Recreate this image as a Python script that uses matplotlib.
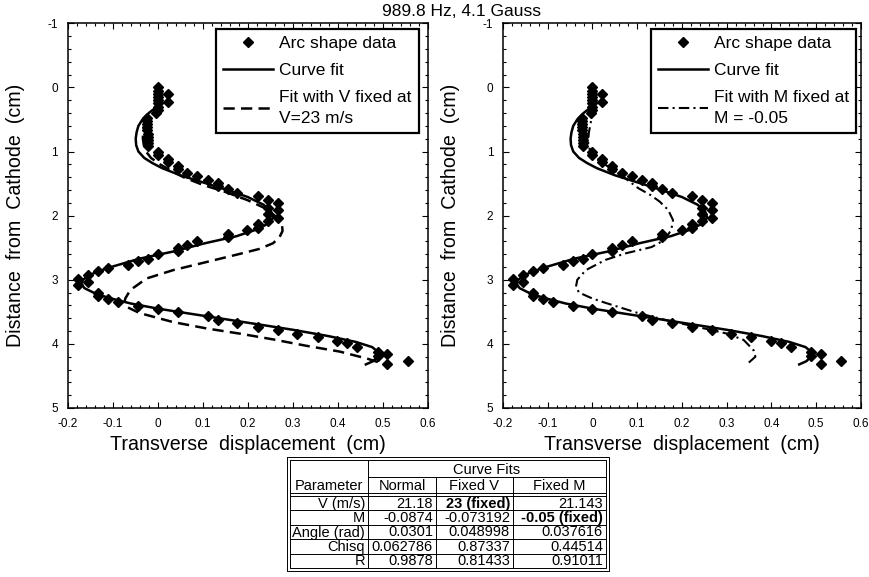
import matplotlib
matplotlib.use("Agg")
import matplotlib.pyplot as plt
from matplotlib.ticker import MultipleLocator, FormatStrFormatter

plt.rcParams['font.family'] = ['Liberation Sans', 'DejaVu Sans']
plt.rcParams['axes.unicode_minus'] = False

# arc shape data (transverse displacement, distance from cathode), cm
data_x = [0.000, 0.000, 0.000, 0.000, 0.000, 0.000, 0.000, 0.000, -0.004, 0.022, 0.022,
          -0.024, -0.024, -0.024, -0.024, -0.024, -0.022, -0.022, -0.022, -0.022, -0.022,
          0.000, 0.000, 0.022, 0.022, 0.044, 0.044, 0.066, 0.088, 0.111, 0.133, 0.133,
          0.155, 0.177, 0.222, 0.244, 0.266, 0.244, 0.266, 0.244, 0.266, 0.244, 0.222,
          0.222, 0.199, 0.155, 0.155, 0.088, 0.066, 0.044, 0.044, 0.000, -0.022, -0.044,
          -0.066, -0.111, -0.133, -0.155, -0.177, -0.155, -0.177, -0.133, -0.133, -0.111,
          -0.089, -0.044, 0.000, 0.044, 0.111, 0.133, 0.177, 0.222, 0.266, 0.310, 0.355,
          0.399, 0.421, 0.443, 0.488, 0.488, 0.510, 0.510, 0.555]
data_y = [0.00, 0.05, 0.10, 0.15, 0.20, 0.25, 0.30, 0.35, 0.40, 0.11, 0.22,
          0.47, 0.52, 0.57, 0.62, 0.67, 0.72, 0.77, 0.82, 0.87, 0.92,
          1.00, 1.05, 1.12, 1.17, 1.22, 1.27, 1.33, 1.38, 1.44, 1.49, 1.54,
          1.59, 1.65, 1.69, 1.76, 1.81, 1.88, 1.91, 1.98, 2.03, 2.08, 2.13,
          2.19, 2.23, 2.29, 2.33, 2.40, 2.46, 2.51, 2.55, 2.60, 2.67, 2.71,
          2.77, 2.82, 2.87, 2.93, 2.99, 3.03, 3.08, 3.20, 3.25, 3.30,
          3.35, 3.41, 3.46, 3.51, 3.57, 3.62, 3.67, 3.73, 3.78, 3.84, 3.89,
          3.95, 3.99, 4.05, 4.12, 4.19, 4.16, 4.32, 4.26]

# curve fit (normal)
fit_x = [-0.002, -0.020, -0.034, -0.043, -0.047, -0.049, -0.048, -0.043, -0.030, -0.012,
         0.010, 0.050, 0.100, 0.150, 0.200, 0.235, 0.252, 0.256, 0.246, 0.222, 0.175,
         0.105, 0.034, -0.040, -0.113, -0.150, -0.166, -0.170, -0.163, -0.140, -0.110,
         -0.060, 0.000, 0.100, 0.200, 0.300, 0.380, 0.440, 0.476, 0.490, 0.488, 0.478, 0.462]
fit_y = [0.30, 0.40, 0.50, 0.60, 0.70, 0.80, 0.90, 1.00, 1.10, 1.18,
         1.26, 1.37, 1.48, 1.59, 1.71, 1.83, 1.94, 2.03, 2.12, 2.21, 2.32,
         2.43, 2.56, 2.67, 2.82, 2.92, 3.00, 3.06, 3.13, 3.21, 3.28,
         3.37, 3.45, 3.56, 3.67, 3.78, 3.88, 3.97, 4.05, 4.13, 4.20, 4.27, 4.32]

# fit with V fixed at 23 m/s
fixv_x = [0.002, -0.010, -0.022, -0.030, -0.033, -0.033, -0.031, -0.026, -0.015, 0.005,
          0.030, 0.057, 0.100, 0.150, 0.200, 0.240, 0.265, 0.276, 0.277, 0.270, 0.256,
          0.225, 0.180, 0.110, 0.034, -0.025, -0.061, -0.072, -0.074, -0.070, -0.040,
          0.034, 0.109, 0.182, 0.256, 0.330, 0.404, 0.465, 0.505]
fixv_y = [0.28, 0.40, 0.50, 0.60, 0.70, 0.80, 0.90, 1.00, 1.10, 1.20,
          1.30, 1.40, 1.52, 1.63, 1.76, 1.89, 2.03, 2.15, 2.24, 2.34, 2.43,
          2.52, 2.60, 2.72, 2.85, 2.98, 3.16, 3.29, 3.35, 3.42, 3.52,
          3.66, 3.76, 3.84, 3.93, 4.03, 4.12, 4.23, 4.32]

# fit with M fixed at -0.05
fixm_x = [0.000, 0.000, -0.004, -0.008, -0.010, -0.005, 0.010, 0.036, 0.070, 0.102,
          0.130, 0.150, 0.169, 0.180, 0.176, 0.161, 0.132, 0.073, 0.029, -0.015,
          -0.034, -0.037, -0.030, -0.001, 0.029, 0.102, 0.176, 0.250, 0.301, 0.338,
          0.360, 0.364, 0.348]
fixm_y = [0.30, 0.40, 0.55, 0.70, 0.85, 1.00, 1.12, 1.24, 1.40, 1.57,
          1.68, 1.78, 1.91, 2.07, 2.22, 2.38, 2.49, 2.59, 2.69, 2.85,
          3.00, 3.11, 3.20, 3.29, 3.36, 3.52, 3.65, 3.76, 3.84, 3.94,
          4.10, 4.20, 4.30]

title = "989.8 Hz, 4.1 Gauss"

tbl_params = ["V (m/s)", "M", "Angle (rad)", "Chisq", "R"]
tbl_normal = ["21.18", "-0.0874", "0.0301", "0.062786", "0.9878"]
tbl_fixv = ["23 (fixed)", "-0.073192", "0.048998", "0.87337", "0.81433"]
tbl_fixm = ["21.143", "-0.05 (fixed)", "0.037616", "0.44514", "0.91011"]
tbl_heads = ["Parameter", "Normal", "Fixed V", "Fixed M"]

W, H = 870, 577
fig = plt.figure(figsize=(W / 100, H / 100), dpi=100)


def px_axes(x0, x1, y0, y1):
    return fig.add_axes([x0 / W, 1 - y1 / H, (x1 - x0) / W, (y1 - y0) / H])


def style(ax):
    ax.set_xlim(-0.2, 0.6)
    ax.set_ylim(5, -1)
    ax.xaxis.set_major_locator(MultipleLocator(0.1))
    ax.xaxis.set_minor_locator(MultipleLocator(0.02))
    ax.yaxis.set_major_locator(MultipleLocator(1))
    ax.yaxis.set_minor_locator(MultipleLocator(0.2))
    ax.xaxis.set_major_formatter(FormatStrFormatter('%g'))
    ax.yaxis.set_major_formatter(FormatStrFormatter('%g'))
    ax.tick_params(which='both', direction='in', top=True, right=True, width=0.8, labelsize=8.5, pad=7)
    ax.tick_params(which='major', length=4)
    ax.tick_params(which='minor', length=2)
    for s in ax.spines.values():
        s.set_linewidth(1.1)
    ax.set_xlabel("Transverse  displacement  (cm)", fontsize=14.1)
    ax.set_ylabel("Distance  from  Cathode  (cm)", fontsize=14.1)
    ax.xaxis.label.set_va('center')
    ax.yaxis.label.set_va('center')
    ax.xaxis.set_label_coords(0.5, -0.096)
    ax.yaxis.set_label_coords(-0.146, 0.5)


ax1 = px_axes(67.7, 428, 23.3, 408)
ax2 = px_axes(503, 861, 23.3, 408)

for ax, other in ((ax1, 'v'), (ax2, 'm')):
    style(ax)
    ax.plot(data_x, data_y, ls='none', marker='D', ms=4.8, color='k', label='Arc shape data')
    ax.plot(fit_x, fit_y, color='k', lw=1.8, label='Curve fit')
    if other == 'v':
        ax.plot(fixv_x, fixv_y, color='k', lw=1.8, dashes=(4.5, 2.5),
                label='Fit with V fixed at\nV=23 m/s')
        anchor = (0.4116, 0.985)
    else:
        ax.plot(fixm_x, fixm_y, color='k', lw=1.5, dashes=(5, 2, 1, 2),
                label='Fit with M fixed at\nM = -0.05')
        anchor = (0.4134, 0.985)
    leg = ax.legend(loc='upper left', bbox_to_anchor=anchor, fontsize=12.5, frameon=True,
                    fancybox=False, edgecolor='k', framealpha=1, borderaxespad=0,
                    handlelength=2.9, handletextpad=0.35, labelspacing=0.68, borderpad=0.4,
                    numpoints=1)
    leg.get_frame().set_linewidth(1.6)
    for t in leg.get_texts():
        t.set_linespacing(1.5)

fig.text(462 / W, 1 - 11 / H, title, ha='center', va='center', fontsize=12.5)

# results table drawn in pixel coordinates
ov = fig.add_axes([0, 0, 1, 1])
ov.set_xlim(0, W)
ov.set_ylim(H, 0)
ov.axis('off')

cols = [290, 368, 436, 513, 606]
top, h1, h2, dbl = 460, 477, 493, 496
bot = 568
rh = (bot - dbl) / len(tbl_params)
lw = 0.7

ov.plot([287, 609, 609, 287, 287], [457, 457, 571, 571, 457], color='k', lw=lw)
ov.plot([cols[0], cols[-1], cols[-1], cols[0], cols[0]], [top, top, bot, bot, top], color='k', lw=lw)
ov.plot([cols[1], cols[1]], [top, bot], color='k', lw=lw)
for c in cols[2:-1]:
    ov.plot([c, c], [h1, bot], color='k', lw=lw)
ov.plot([cols[1], cols[-1]], [h1, h1], color='k', lw=lw)
ov.plot([cols[0], cols[-1]], [h2, h2], color='k', lw=lw)
ov.plot([cols[0], cols[-1]], [dbl, dbl], color='k', lw=lw)
for i in range(1, len(tbl_params)):
    yy = dbl + i * rh
    ov.plot([cols[0], cols[-1]], [yy, yy], color='k', lw=lw)

fs = 10.5
ov.text((cols[1] + cols[-1]) / 2, (top + h1) / 2 + 1, "Curve Fits", ha='center', va='center', fontsize=fs)
for j, head in enumerate(tbl_heads):
    ov.text((cols[j] + cols[j + 1]) / 2, (h1 + h2) / 2 + 1, head, ha='center', va='center', fontsize=fs)

for i in range(len(tbl_params)):
    yc = dbl + (i + 0.5) * rh + 0.5
    row = [tbl_params[i], tbl_normal[i], tbl_fixv[i], tbl_fixm[i]]
    for j, val in enumerate(row):
        bold = 'fixed' in val
        ov.text(cols[j + 1] - 3, yc, val, ha='right', va='center', fontsize=fs,
                fontweight='bold' if bold else 'normal')

fig.savefig("out.png", dpi=100)
